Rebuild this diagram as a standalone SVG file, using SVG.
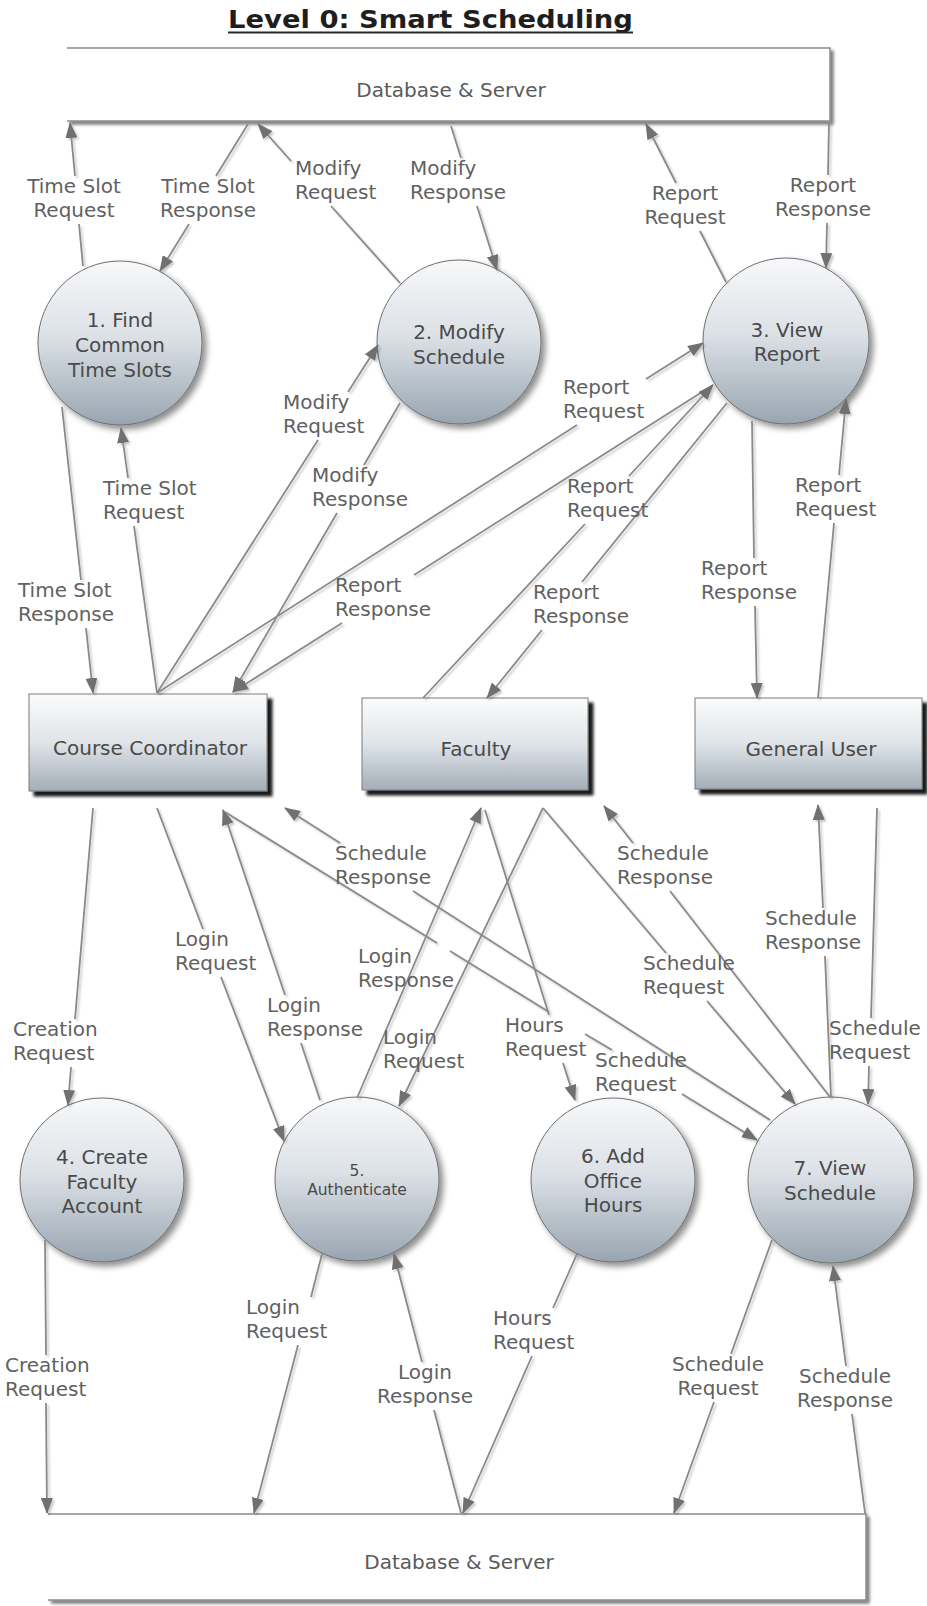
<svg xmlns="http://www.w3.org/2000/svg" width="927" height="1606" viewBox="0 0 927 1606">
<defs>
<linearGradient id="gc" x1="0" y1="0" x2="0" y2="1">
<stop offset="0" stop-color="#f7f8fa"/>
<stop offset="0.45" stop-color="#dde2e7"/>
<stop offset="1" stop-color="#98a5b1"/>
</linearGradient>
<linearGradient id="gr" x1="0" y1="0" x2="0" y2="1">
<stop offset="0" stop-color="#fbfcfc"/>
<stop offset="0.5" stop-color="#dfe4e8"/>
<stop offset="1" stop-color="#a3aeb8"/>
</linearGradient>
<filter id="sc" x="-20%" y="-20%" width="150%" height="150%">
<feGaussianBlur in="SourceAlpha" stdDeviation="3"/>
<feOffset dx="4" dy="4" result="b"/>
<feComponentTransfer><feFuncA type="linear" slope="0.45"/></feComponentTransfer>
<feMerge><feMergeNode/><feMergeNode in="SourceGraphic"/></feMerge>
</filter>
<filter id="sr" x="-10%" y="-10%" width="125%" height="130%">
<feGaussianBlur in="SourceAlpha" stdDeviation="1.5"/>
<feOffset dx="5" dy="5"/>
<feComponentTransfer><feFuncA type="linear" slope="0.9"/></feComponentTransfer>
<feMerge><feMergeNode/><feMergeNode in="SourceGraphic"/></feMerge>
</filter>
<filter id="sd" x="-5%" y="-20%" width="110%" height="150%">
<feGaussianBlur in="SourceAlpha" stdDeviation="1.5"/>
<feOffset dx="3" dy="3"/>
<feComponentTransfer><feFuncA type="linear" slope="0.5"/></feComponentTransfer>
<feMerge><feMergeNode/><feMergeNode in="SourceGraphic"/></feMerge>
</filter>
<filter id="sl" x="-5%" y="-5%" width="110%" height="110%">
<feGaussianBlur in="SourceAlpha" stdDeviation="1"/>
<feOffset dx="1.5" dy="1.5"/>
<feComponentTransfer><feFuncA type="linear" slope="0.22"/></feComponentTransfer>
<feMerge><feMergeNode/><feMergeNode in="SourceGraphic"/></feMerge>
</filter>
<marker id="ah" markerUnits="userSpaceOnUse" viewBox="0 0 16 12" markerWidth="16" markerHeight="12" refX="15" refY="6" orient="auto">
<path d="M0,0 L16,6 L0,12 Z" fill="#6f6f6f"/>
</marker>
<style>
.lbl { font-family: "DejaVu Sans", Verdana, sans-serif; font-size: 20px; fill: #616161; }
.mid { text-anchor: middle; }
.nt { font-family: "DejaVu Sans", Verdana, sans-serif; font-size: 20px; fill: #4a4a4a; text-anchor: middle; }
.nts { font-family: "DejaVu Sans", Verdana, sans-serif; font-size: 15.5px; fill: #4a4a4a; text-anchor: middle; }
.c { fill: none; stroke: #8a8a8a; stroke-width: 1.8; marker-end: url(#ah); }
.proc { fill: url(#gc); stroke: #6f6f6f; stroke-width: 1; filter: url(#sc); }
.ent { fill: url(#gr); stroke: #7a7a7a; stroke-width: 1; filter: url(#sr); }
.store { fill: #ffffff; stroke: #8a8a8a; stroke-width: 1.5; filter: url(#sd); }
.st { font-family: "DejaVu Sans", Verdana, sans-serif; font-size: 20px; fill: #5a5a5a; text-anchor: middle; }
</style>
</defs>
<rect width="927" height="1606" fill="#ffffff"/>

<g id="title">
<text x="228" y="28" font-family="DejaVu Sans, Verdana, sans-serif" font-size="25" font-weight="bold" fill="#1e1e1e" textLength="405" lengthAdjust="spacingAndGlyphs">Level 0: Smart Scheduling</text>
<line x1="228" y1="32.5" x2="633" y2="32.5" stroke="#2a2a2a" stroke-width="2"/>
</g>

<g id="db-top">
<path class="store" d="M67,48 H830 V121 H67"/>
<text class="st" x="451" y="97">Database &amp; Server</text>
</g>
<g id="db-bottom">
<path class="store" d="M48,1514 H866 V1600 H48"/>
<text class="st" x="459" y="1569">Database &amp; Server</text>
</g>

<g id="p1">
<circle class="proc" cx="120" cy="343" r="82"/>
<text class="nt" x="120" y="327">1. Find</text>
<text class="nt" x="120" y="352">Common</text>
<text class="nt" x="120" y="377">Time Slots</text>
</g>
<g id="p2">
<circle class="proc" cx="459" cy="342" r="82"/>
<text class="nt" x="459" y="339">2. Modify</text>
<text class="nt" x="459" y="364">Schedule</text>
</g>
<g id="p3">
<circle class="proc" cx="786" cy="341" r="83"/>
<text class="nt" x="787" y="337">3. View</text>
<text class="nt" x="787" y="361">Report</text>
</g>
<g id="p4">
<circle class="proc" cx="102" cy="1180" r="82"/>
<text class="nt" x="102" y="1164">4. Create</text>
<text class="nt" x="102" y="1189">Faculty</text>
<text class="nt" x="102" y="1213">Account</text>
</g>
<g id="p5">
<circle class="proc" cx="357" cy="1179" r="82"/>
<text class="nts" x="357" y="1176">5.</text>
<text class="nts" x="357" y="1195">Authenticate</text>
</g>
<g id="p6">
<circle class="proc" cx="613" cy="1180" r="82"/>
<text class="nt" x="613" y="1163">6. Add</text>
<text class="nt" x="613" y="1188">Office</text>
<text class="nt" x="613" y="1212">Hours</text>
</g>
<g id="p7">
<circle class="proc" cx="831" cy="1180" r="83"/>
<text class="nt" x="830" y="1175">7. View</text>
<text class="nt" x="830" y="1200">Schedule</text>
</g>

<g id="e-course-coordinator">
<rect class="ent" x="29" y="694" width="238" height="97"/>
<text class="nt" x="150" y="755">Course Coordinator</text>
</g>
<g id="e-faculty">
<rect class="ent" x="362" y="698" width="226" height="92"/>
<text class="nt" x="476" y="756">Faculty</text>
</g>
<g id="e-general-user">
<rect class="ent" x="695" y="698" width="227" height="91"/>
<text class="nt" x="811" y="756">General User</text>
</g>

<g id="connectors" filter="url(#sl)">
<path class="c" d="M83,266 L79,224 M75,176 L70,123"/>
<path class="c" d="M248,124 L216,176 M189,224 L160,271"/>
<path class="c" d="M400,283 L331,206 M291,161 L258,124"/>
<path class="c" d="M451,126 L461,158 M477,206 L497,270"/>
<path class="c" d="M726,282 L700,231 M676,183 L646,124"/>
<path class="c" d="M829,122 L828,175 M827,223 L826,268"/>
<path class="c" d="M62,407 L81,580 M86,628 L93,693"/>
<path class="c" d="M157,693 L134,526 M128,478 L121,428"/>
<path class="c" d="M157,693 L318,440 M348,392 L378,345"/>
<path class="c" d="M400,403 L364,465 M337,513 L233,692"/>
<path class="c" d="M157,693 L577,425 M646,379 L703,343"/>
<path class="c" d="M713,385 L414,575 M342,623 L233,692"/>
<path class="c" d="M423,698 L585,524 M629,476 L713,385"/>
<path class="c" d="M727,403 L582,582 M542,630 L487,698"/>
<path class="c" d="M752,421 L754,558 M755,606 L757,698"/>
<path class="c" d="M818,698 L834,523 M839,475 L846,399"/>
<path class="c" d="M93,808 L75,1019 M71,1067 L68,1105"/>
<path class="c" d="M157,808 L203,929 M221,977 L284,1141"/>
<path class="c" d="M320,1100 L301,1043 M285,995 L223,810"/>
<path class="c" d="M770,1120 L413,891 M340,843 L285,808"/>
<path class="c" d="M225,812 L437,943 M450,951 L549,1012 M585,1034 L612,1050 M682,1094 L757,1140"/>
<path class="c" d="M357,1098 L481,808"/>
<path class="c" d="M543,808 L399,1106"/>
<path class="c" d="M485,810 L549,1015 M563,1063 L575,1100"/>
<path class="c" d="M543,808 L666,953 M707,1001 L795,1104"/>
<path class="c" d="M830,1097 L670,891 M633,843 L604,806"/>
<path class="c" d="M831,1097 L825,956 M823,908 L818,805"/>
<path class="c" d="M877,808 L871,1018 M869,1066 L868,1104"/>
<path class="c" d="M45,1240 L46,1355 M46,1403 L47,1513"/>
<path class="c" d="M322,1254 L311,1297 M298,1345 L254,1513"/>
<path class="c" d="M461,1513 L434,1410 M422,1362 L394,1254"/>
<path class="c" d="M577,1254 L553,1308 M532,1356 L463,1513"/>
<path class="c" d="M772,1240 L731,1354 M714,1402 L674,1513"/>
<path class="c" d="M865,1513 L852,1414 M846,1366 L833,1266"/>
</g>

<g id="labels">
<text class="lbl mid" x="74" y="193"><tspan x="74">Time Slot</tspan><tspan x="74" dy="24">Request</tspan></text>
<text class="lbl mid" x="208" y="193"><tspan x="208">Time Slot</tspan><tspan x="208" dy="24">Response</tspan></text>
<text class="lbl" x="295" y="175"><tspan x="295">Modify</tspan><tspan x="295" dy="24">Request</tspan></text>
<text class="lbl" x="410" y="175"><tspan x="410">Modify</tspan><tspan x="410" dy="24">Response</tspan></text>
<text class="lbl mid" x="685" y="200"><tspan x="685">Report</tspan><tspan x="685" dy="24">Request</tspan></text>
<text class="lbl mid" x="823" y="192"><tspan x="823">Report</tspan><tspan x="823" dy="24">Response</tspan></text>
<text class="lbl" x="283" y="409"><tspan x="283">Modify</tspan><tspan x="283" dy="24">Request</tspan></text>
<text class="lbl" x="103" y="495"><tspan x="103">Time Slot</tspan><tspan x="103" dy="24">Request</tspan></text>
<text class="lbl" x="312" y="482"><tspan x="312">Modify</tspan><tspan x="312" dy="24">Response</tspan></text>
<text class="lbl" x="563" y="394"><tspan x="563">Report</tspan><tspan x="563" dy="24">Request</tspan></text>
<text class="lbl" x="567" y="493"><tspan x="567">Report</tspan><tspan x="567" dy="24">Request</tspan></text>
<text class="lbl" x="795" y="492"><tspan x="795">Report</tspan><tspan x="795" dy="24">Request</tspan></text>
<text class="lbl" x="18" y="597"><tspan x="18">Time Slot</tspan><tspan x="18" dy="24">Response</tspan></text>
<text class="lbl" x="335" y="592"><tspan x="335">Report</tspan><tspan x="335" dy="24">Response</tspan></text>
<text class="lbl" x="533" y="599"><tspan x="533">Report</tspan><tspan x="533" dy="24">Response</tspan></text>
<text class="lbl" x="701" y="575"><tspan x="701">Report</tspan><tspan x="701" dy="24">Response</tspan></text>
<text class="lbl" x="335" y="860"><tspan x="335">Schedule</tspan><tspan x="335" dy="24">Response</tspan></text>
<text class="lbl" x="175" y="946"><tspan x="175">Login</tspan><tspan x="175" dy="24">Request</tspan></text>
<text class="lbl" x="267" y="1012"><tspan x="267">Login</tspan><tspan x="267" dy="24">Response</tspan></text>
<text class="lbl" x="13" y="1036"><tspan x="13">Creation</tspan><tspan x="13" dy="24">Request</tspan></text>
<text class="lbl" x="358" y="963"><tspan x="358">Login</tspan><tspan x="358" dy="24">Response</tspan></text>
<text class="lbl" x="383" y="1044"><tspan x="383">Login</tspan><tspan x="383" dy="24">Request</tspan></text>
<text class="lbl" x="617" y="860"><tspan x="617">Schedule</tspan><tspan x="617" dy="24">Response</tspan></text>
<text class="lbl" x="765" y="925"><tspan x="765">Schedule</tspan><tspan x="765" dy="24">Response</tspan></text>
<text class="lbl" x="643" y="970"><tspan x="643">Schedule</tspan><tspan x="643" dy="24">Request</tspan></text>
<text class="lbl" x="505" y="1032"><tspan x="505">Hours</tspan><tspan x="505" dy="24">Request</tspan></text>
<text class="lbl" x="595" y="1067"><tspan x="595">Schedule</tspan><tspan x="595" dy="24">Request</tspan></text>
<text class="lbl" x="829" y="1035"><tspan x="829">Schedule</tspan><tspan x="829" dy="24">Request</tspan></text>
<text class="lbl" x="5" y="1372"><tspan x="5">Creation</tspan><tspan x="5" dy="24">Request</tspan></text>
<text class="lbl" x="246" y="1314"><tspan x="246">Login</tspan><tspan x="246" dy="24">Request</tspan></text>
<text class="lbl mid" x="425" y="1379"><tspan x="425">Login</tspan><tspan x="425" dy="24">Response</tspan></text>
<text class="lbl" x="493" y="1325"><tspan x="493">Hours</tspan><tspan x="493" dy="24">Request</tspan></text>
<text class="lbl mid" x="718" y="1371"><tspan x="718">Schedule</tspan><tspan x="718" dy="24">Request</tspan></text>
<text class="lbl mid" x="845" y="1383"><tspan x="845">Schedule</tspan><tspan x="845" dy="24">Response</tspan></text>
</g>
</svg>
